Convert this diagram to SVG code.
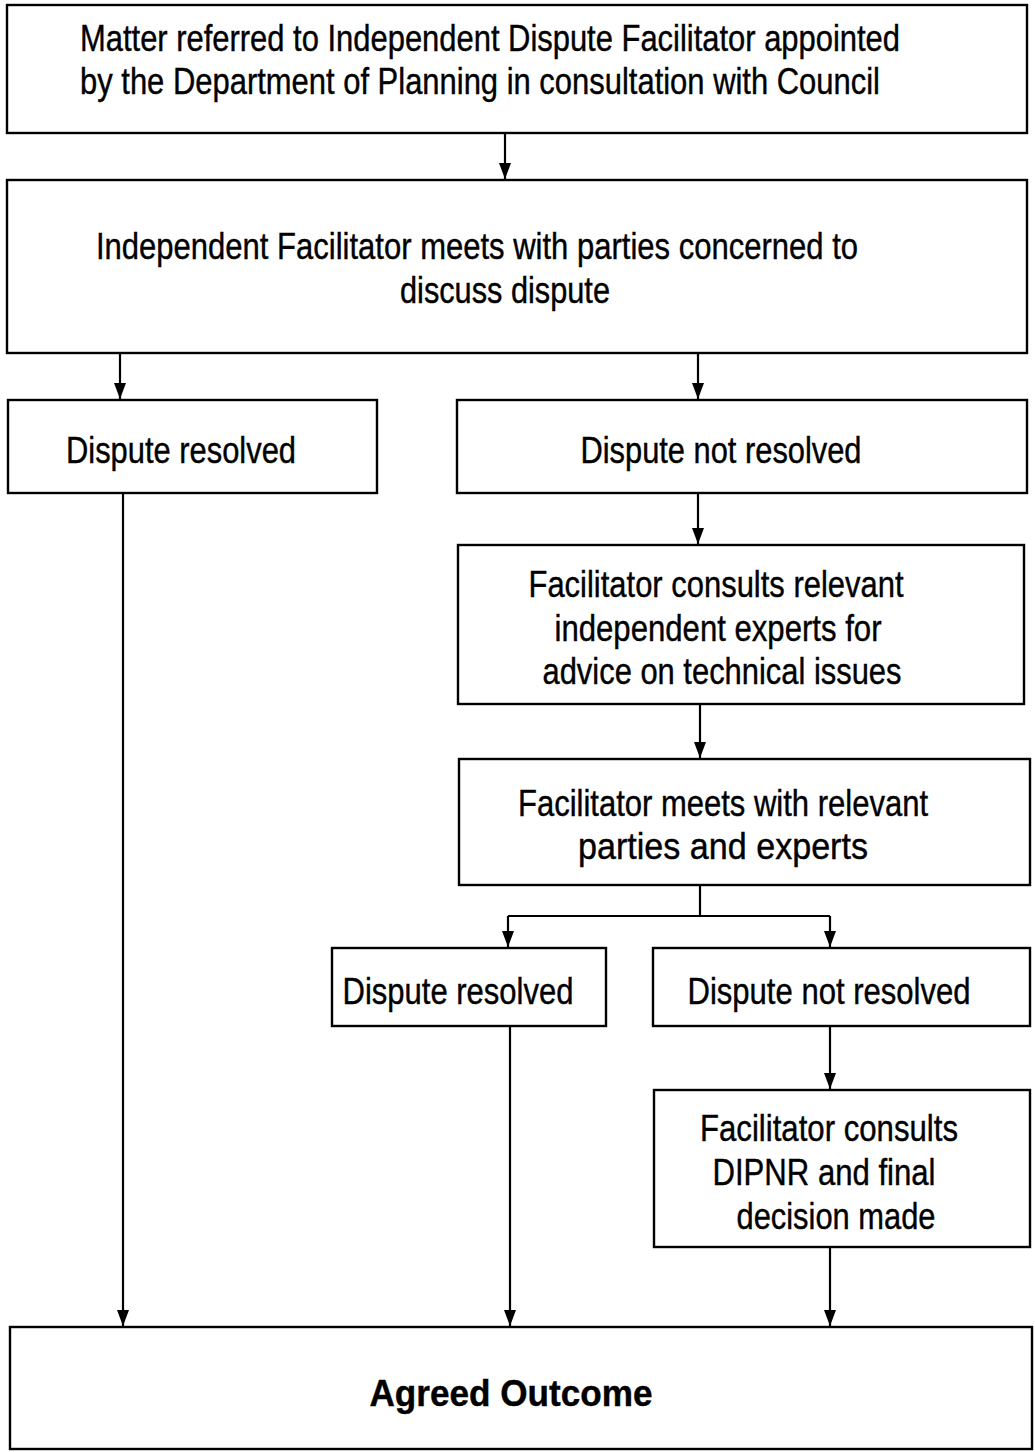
<svg xmlns="http://www.w3.org/2000/svg" width="1035" height="1452" viewBox="0 0 1035 1452">
<defs>
<style>
.box{fill:#fff;stroke:#000;stroke-width:2.4}
.t{font-family:"Liberation Sans",Arial,sans-serif;font-size:36px;fill:#000;stroke:#000;stroke-width:0.4;text-anchor:middle}
.b{font-weight:bold}
.c{fill:none;stroke:#000;stroke-width:2.2}
</style>
<marker id="ah" markerWidth="16" markerHeight="12" refX="16" refY="6" orient="auto" markerUnits="userSpaceOnUse" viewBox="0 0 16 12">
<path d="M0,0 L16,6 L0,12 Z" fill="#000"/>
</marker>
</defs>
<rect width="1035" height="1452" fill="#fff"/>
<g id="connectors">
<path class="c" d="M505,133 V179" marker-end="url(#ah)"/>
<path class="c" d="M120,353 V399" marker-end="url(#ah)"/>
<path class="c" d="M698,353 V399" marker-end="url(#ah)"/>
<path class="c" d="M698,493 V544" marker-end="url(#ah)"/>
<path class="c" d="M700,704 V758" marker-end="url(#ah)"/>
<path class="c" d="M700,885 V916"/>
<path class="c" d="M508,916 H830"/>
<path class="c" d="M508,916 V947" marker-end="url(#ah)"/>
<path class="c" d="M830,916 V947" marker-end="url(#ah)"/>
<path class="c" d="M830,1026 V1089" marker-end="url(#ah)"/>
<path class="c" d="M123,493 V1326" marker-end="url(#ah)"/>
<path class="c" d="M510,1026 V1326" marker-end="url(#ah)"/>
<path class="c" d="M830,1247 V1326" marker-end="url(#ah)"/>
</g>
<g id="n1">
<rect class="box" x="7" y="5" width="1020" height="128"/>
<text class="t" x="490" y="51" textLength="820" lengthAdjust="spacingAndGlyphs">Matter referred to Independent Dispute Facilitator appointed</text>
<text class="t" x="480" y="94" textLength="800" lengthAdjust="spacingAndGlyphs">by the Department of Planning in consultation with Council</text>
</g>
<g id="n2">
<rect class="box" x="7" y="180" width="1020" height="173"/>
<text class="t" x="477" y="259" textLength="762" lengthAdjust="spacingAndGlyphs">Independent Facilitator meets with parties concerned to</text>
<text class="t" x="505" y="303" textLength="210" lengthAdjust="spacingAndGlyphs">discuss dispute</text>
</g>
<g id="n3">
<rect class="box" x="8" y="400" width="369" height="93"/>
<text class="t" x="181" y="463" textLength="230" lengthAdjust="spacingAndGlyphs">Dispute resolved</text>
</g>
<g id="n4">
<rect class="box" x="457" y="400" width="570" height="93"/>
<text class="t" x="721" y="463" textLength="281" lengthAdjust="spacingAndGlyphs">Dispute not resolved</text>
</g>
<g id="n5">
<rect class="box" x="458" y="545" width="566" height="159"/>
<text class="t" x="716" y="597" textLength="375" lengthAdjust="spacingAndGlyphs">Facilitator consults relevant</text>
<text class="t" x="718" y="641" textLength="327" lengthAdjust="spacingAndGlyphs">independent experts for</text>
<text class="t" x="722" y="684" textLength="359" lengthAdjust="spacingAndGlyphs">advice on technical issues</text>
</g>
<g id="n6">
<rect class="box" x="459" y="759" width="571" height="126"/>
<text class="t" x="723" y="816" textLength="410" lengthAdjust="spacingAndGlyphs">Facilitator meets with relevant</text>
<text class="t" x="723" y="859" textLength="290" lengthAdjust="spacingAndGlyphs">parties and experts</text>
</g>
<g id="n7">
<rect class="box" x="332" y="948" width="274" height="78"/>
<text class="t" x="458" y="1004" textLength="231" lengthAdjust="spacingAndGlyphs">Dispute resolved</text>
</g>
<g id="n8">
<rect class="box" x="653" y="948" width="377" height="78"/>
<text class="t" x="829" y="1004" textLength="283" lengthAdjust="spacingAndGlyphs">Dispute not resolved</text>
</g>
<g id="n9">
<rect class="box" x="654" y="1090" width="376" height="157"/>
<text class="t" x="829" y="1141" textLength="258" lengthAdjust="spacingAndGlyphs">Facilitator consults</text>
<text class="t" x="824" y="1185" textLength="223" lengthAdjust="spacingAndGlyphs">DIPNR and final</text>
<text class="t" x="836" y="1229" textLength="199" lengthAdjust="spacingAndGlyphs">decision made</text>
</g>
<g id="n10">
<rect class="box" x="10" y="1327" width="1022" height="122"/>
<text class="t b" x="511" y="1406" textLength="283" lengthAdjust="spacingAndGlyphs">Agreed Outcome</text>
</g>
</svg>
